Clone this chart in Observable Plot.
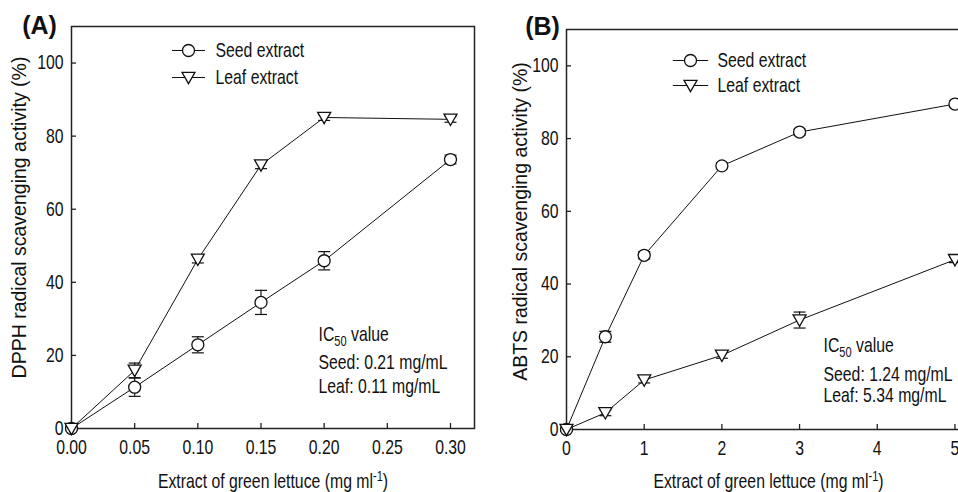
<!DOCTYPE html>
<html><head><meta charset="utf-8">
<script src="https://cdn.jsdelivr.net/npm/d3@7"></script>
<script src="https://cdn.jsdelivr.net/npm/@observablehq/plot@0.6"></script>
<style>
body{margin:0;background:#fff}
#wrap{position:relative;width:958px;height:492px;overflow:hidden;background:#fff}
#wrap svg{position:absolute;top:0}
</style></head><body><div id="wrap"></div>
<script>
// ---- Panel A: DPPH ----
const dpphX = [0, 0.05, 0.10, 0.15, 0.20, 0.30];
const dpphSeed = [0, 11.3, 22.9, 34.5, 45.9, 73.6];
const dpphSeedErr = [0.5, 2.5, 2.2, 3.3, 2.5, 1.2];
const dpphLeaf = [0, 15.9, 46.3, 72.1, 85.1, 84.6];
const dpphLeafErr = [0.5, 2.0, 1.0, 1.0, 0.8, 0.8];
const dpphXTicks = [0, 0.05, 0.10, 0.15, 0.20, 0.25, 0.30];
// ---- Panel B: ABTS ----
const abtsX = [0, 0.5, 1, 2, 3, 5];
const abtsSeed = [0, 25.5, 47.9, 72.5, 81.8, 89.5];
const abtsSeedErr = [0.5, 1.5, 1.0, 0.8, 0.8, 0.8];
const abtsLeaf = [0, 4.6, 13.6, 20.4, 30.1, 46.7];
const abtsLeafErr = [0.5, 0.8, 0.8, 0.8, 2.2, 0.8];
const abtsXTicks = [0, 1, 2, 3, 4, 5];
// ---- shared ----
const yTicks = [0, 20, 40, 60, 80, 100];
const seriesNames = ["Seed extract", "Leaf extract"];
const icA = ["IC_{50} value", "Seed: 0.21 mg/mL", "Leaf: 0.11 mg/mL"];
const icB = ["IC_{50} value", "Seed: 1.24 mg/mL", "Leaf: 5.34 mg/mL"];
const xTitle = "Extract of green lettuce (mg ml^{-1})";
const yTitleA = "DPPH radical scavenging activity (%)";
const yTitleB = "ABTS radical scavenging activity (%)";

const NARROW = "'Liberation Sans Narrow','Arial Narrow','Liberation Sans',Arial,sans-serif";
const REG = "'Liberation Sans',Arial,sans-serif";
const INK = "#111";
const FS = 20;
const SQUEEZE = 0.79;

const triDown = {draw(ctx, size){ const r = Math.sqrt(size/Math.PI); ctx.moveTo(-r, -r*0.8); ctx.lineTo(r, -r*0.8); ctx.lineTo(0, r*0.95); ctx.closePath(); }};
const capSym = {draw(ctx){ ctx.moveTo(-6, 0); ctx.lineTo(6, 0); }};
function legLine(half){ return {draw(ctx){ ctx.moveTo(-half, 0); ctx.lineTo(half, 0); }}; }

function makePanel(c){
  const seedRows = c.xs.map((x,i)=>({x, y:c.seed[i], e:c.seedErr[i]}));
  const leafRows = c.xs.map((x,i)=>({x, y:c.leaf[i], e:c.leafErr[i]}));
  const all = seedRows.concat(leafRows);
  const caps = all.flatMap(d=>[{x:d.x, y:d.y+d.e}, {x:d.x, y:d.y-d.e}]);
  const lt = {frameAnchor:"top-left", fontFamily:NARROW, fontSize:FS, fill:INK};
  return Plot.plot({
    width:c.width, height:492,
    marginLeft:c.mL, marginRight:c.mR, marginTop:c.mT, marginBottom:c.mB,
    x:{domain:c.xDomain}, y:{domain:[0,110]},
    style:{fontFamily:NARROW, fontSize:FS+"px", color:INK, background:"transparent", overflow:"visible"},
    marks:[
      Plot.frame({stroke:"#222", strokeWidth:1.5}),
      Plot.axisX({ticks:c.xTicks, tickFormat:c.xFmt, tickSize:-5, tickPadding:16, label:null, stroke:"#222", strokeWidth:1.3, fontSize:FS, fontFamily:NARROW}),
      Plot.axisY({ticks:yTicks, tickSize:-5, tickPadding:13, label:null, stroke:"#222", strokeWidth:1.3, fontSize:FS, fontFamily:NARROW}),
      Plot.ruleX(all, {x:"x", y1:d=>d.y-d.e, y2:d=>d.y+d.e, stroke:INK, strokeWidth:1.2}),
      Plot.dot(caps, {x:"x", y:"y", symbol:capSym, stroke:INK, fill:"none", strokeWidth:1.2}),
      Plot.line(seedRows, {x:"x", y:"y", stroke:INK, strokeWidth:1}),
      Plot.line(leafRows, {x:"x", y:"y", stroke:INK, strokeWidth:1}),
      Plot.dot(seedRows, {x:"x", y:"y", symbol:"circle", r:6, fill:"white", stroke:INK, strokeWidth:1.3}),
      Plot.dot(leafRows, {x:"x", y:"y", symbol:triDown, r:6.5, fill:"white", stroke:INK, strokeWidth:1.3}),
      // legend
      Plot.dot([0], {frameAnchor:"top-left", dx:c.lgX, dy:c.lgY[0], symbol:legLine(c.lgHalf), stroke:INK, strokeWidth:1.2}),
      Plot.dot([0], {frameAnchor:"top-left", dx:c.lgX, dy:c.lgY[1], symbol:legLine(c.lgHalf), stroke:INK, strokeWidth:1.2}),
      Plot.dot([0], {frameAnchor:"top-left", dx:c.lgX, dy:c.lgY[0], symbol:"circle", r:6, fill:"white", stroke:INK, strokeWidth:1.3}),
      Plot.dot([0], {frameAnchor:"top-left", dx:c.lgX, dy:c.lgY[1], symbol:triDown, r:6.5, fill:"white", stroke:INK, strokeWidth:1.3}),
      Plot.text([seriesNames[0]], {...lt, dx:c.lgTx, dy:c.lgY[0], textAnchor:"start", lineAnchor:"middle"}),
      Plot.text([seriesNames[1]], {...lt, dx:c.lgTx, dy:c.lgY[1], textAnchor:"start", lineAnchor:"middle"}),
      // IC50 annotation
      ...c.ic.map((t,i)=>Plot.text([t], {frameAnchor:"bottom-left", dx:c.icX, dy:c.icY[i], fontFamily:NARROW, fontSize:FS, fill:INK, textAnchor:"start", lineAnchor:"middle"})),
      // titles
      Plot.text([xTitle], {frameAnchor:"bottom", dy:c.xtDy, fontFamily:NARROW, fontSize:FS, fill:INK, textAnchor:"middle", lineAnchor:"middle"}),
      Plot.text([c.yTitle], {frameAnchor:"left", dx:c.ytDx, dy:c.ytDy, rotate:-90, fontFamily:REG, fontSize:19.5, fill:INK, textAnchor:"middle", lineAnchor:"middle"}),
      Plot.text([c.letter], {frameAnchor:"top-left", dx:c.ltDx, dy:c.ltDy, fontFamily:REG, fontWeight:"bold", fontSize:25, fill:INK, textAnchor:"middle", lineAnchor:"middle"})
    ]
  });
}

function richify(svg){
  const walker = document.createTreeWalker(svg, NodeFilter.SHOW_TEXT);
  const nodes = [];
  while (walker.nextNode()) if (/[_^]\{/.test(walker.currentNode.nodeValue)) nodes.push(walker.currentNode);
  for (const node of nodes){
    const parent = node.parentNode;
    const parts = node.nodeValue.split(/([_^]\{[^}]*\})/);
    let shift = 0;
    const frag = document.createDocumentFragment();
    for (const p of parts){
      if (!p) continue;
      const m = p.match(/^([_^])\{([^}]*)\}$/);
      const ts = document.createElementNS("http://www.w3.org/2000/svg", "tspan");
      if (m){ const s = m[1] === "_" ? 5 : -7; ts.setAttribute("dy", s - shift); shift = s; ts.setAttribute("font-size", "14"); ts.textContent = m[2]; }
      else { if (shift) ts.setAttribute("dy", -shift); shift = 0; ts.textContent = p; }
      frag.appendChild(ts);
    }
    parent.replaceChild(frag, node);
  }
}

// the narrow face is not installed: squeeze narrow-styled texts horizontally about their anchor
function squeeze(svg){
  for (const t of svg.querySelectorAll("text")){
    const ff = getComputedStyle(t).fontFamily || "";
    if (!/Narrow/.test(ff)) continue;
    const x = t.getAttribute("x");
    const old = t.getAttribute("transform") || "";
    if (x != null && x !== ""){
      t.setAttribute("transform", `${old} translate(${x},0) scale(${SQUEEZE},1) translate(${-x},0)`);
    } else {
      t.setAttribute("transform", `${old} scale(${SQUEEZE},1)`);
    }
  }
}

const wrap = document.getElementById("wrap");
const A = makePanel({
  xs:dpphX, seed:dpphSeed, seedErr:dpphSeedErr, leaf:dpphLeaf, leafErr:dpphLeafErr,
  xDomain:[0,0.319], xTicks:dpphXTicks, xFmt:d3.format(".2f"),
  width:480, mL:71, mR:6, mT:26, mB:64,
  lgX:117, lgY:[24,51], lgHalf:16.5, lgTx:144,
  ic:icA, icX:247, icY:[-94,-66,-42],
  xtDy:53, yTitle:yTitleA, ytDx:-51.3, ytDy:-10,
  letter:"(A)", ltDx:-32, ltDy:-1
});
const B = makePanel({
  xs:abtsX, seed:abtsSeed, seedErr:abtsSeedErr, leaf:abtsLeaf, leafErr:abtsLeafErr,
  xDomain:[0,5.2], xTicks:abtsXTicks, xFmt:d3.format("d"),
  width:500, mL:86, mR:10, mT:29, mB:63,
  lgX:124, lgY:[31,56], lgHalf:17.7, lgTx:151,
  ic:icB, icX:257, icY:[-84,-55,-34],
  xtDy:52, yTitle:yTitleB, ytDx:-45.7, ytDy:-8,
  letter:"(B)", ltDx:-24, ltDy:-3
});
A.style.left = "0px";
B.style.left = "480px";
wrap.appendChild(A);
wrap.appendChild(B);
richify(A); richify(B);
squeeze(A); squeeze(B);
</script>
</body></html>
